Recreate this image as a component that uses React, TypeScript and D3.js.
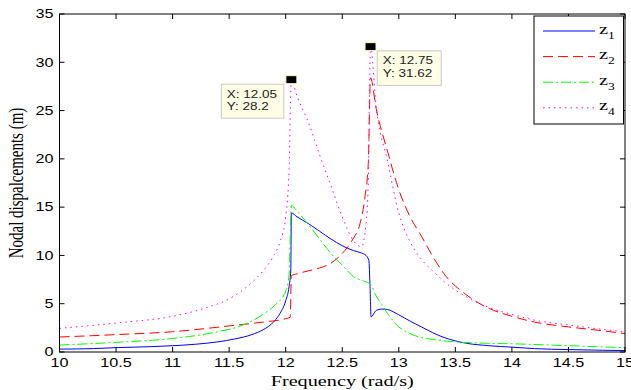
import { useEffect, useRef } from "react";
import * as d3 from "d3";

// axis ticks
const xTicks = [10, 10.5, 11, 11.5, 12, 12.5, 13, 13.5, 14, 14.5, 15];
const yTicks = [0, 5, 10, 15, 20, 25, 30, 35];

// z1 - blue solid
const z1Freq = [10, 10.3, 10.5, 10.8, 11, 11.2, 11.4, 11.55, 11.7, 11.8, 11.9, 11.95, 12.0, 12.03, 12.045, 12.05, 12.1, 12.2, 12.3, 12.4, 12.5, 12.6, 12.67, 12.71, 12.735, 12.745, 12.755, 12.8, 12.85, 12.9, 13.0, 13.1, 13.2, 13.3, 13.4, 13.5, 13.6, 13.8, 14.0, 14.2, 14.5, 14.8, 15];
const z1Disp = [0.3, 0.35, 0.45, 0.55, 0.65, 0.8, 1.05, 1.35, 1.8, 2.3, 3.2, 4.0, 5.3, 6.8, 8.5, 14.4, 14.0, 13.3, 12.5, 11.7, 11.0, 10.5, 10.25, 10.0, 9.5, 7.0, 3.65, 4.3, 4.45, 4.4, 3.85, 3.2, 2.6, 2.0, 1.5, 1.15, 0.9, 0.65, 0.5, 0.35, 0.25, 0.18, 0.15];

// z2 - red dashed
const z2Freq = [10, 10.5, 11, 11.5, 11.8, 12.0, 12.04, 12.05, 12.1, 12.2, 12.3, 12.4, 12.5, 12.55, 12.6, 12.65, 12.7, 12.73, 12.75, 12.8, 12.9, 13.0, 13.1, 13.2, 13.3, 13.4, 13.6, 13.8, 14.0, 14.2, 14.5, 14.8, 15];
const z2Disp = [1.55, 1.8, 2.1, 2.7, 3.1, 3.45, 3.6, 7.9, 8.1, 8.4, 8.7, 9.2, 10.2, 10.9, 11.8, 13.0, 16.0, 19.5, 28.4, 25.2, 20.8, 16.8, 14.0, 12.0, 9.9, 8.1, 5.9, 4.5, 3.7, 3.1, 2.6, 2.2, 1.9];

// z3 - green dash-dot
const z3Freq = [10, 10.5, 11, 11.4, 11.6, 11.8, 11.9, 12.0, 12.03, 12.05, 12.1, 12.2, 12.3, 12.4, 12.5, 12.6, 12.7, 12.75, 12.8, 12.85, 12.9, 13.0, 13.1, 13.2, 13.3, 13.5, 13.8, 14.0, 14.5, 15];
const z3Disp = [0.72, 1.0, 1.4, 2.1, 2.7, 3.9, 4.8, 6.3, 8.0, 15.2, 14.6, 13.2, 11.7, 10.2, 9.0, 7.8, 7.3, 7.0, 5.8, 4.9, 4.0, 2.6, 1.9, 1.5, 1.3, 1.05, 0.9, 0.85, 0.65, 0.45];

// z4 - magenta dotted
const z4Freq = [10, 10.5, 11, 11.3, 11.5, 11.7, 11.8, 11.9, 11.95, 12.0, 12.03, 12.05, 12.1, 12.2, 12.3, 12.4, 12.5, 12.6, 12.67, 12.71, 12.73, 12.75, 12.8, 12.9, 13.0, 13.1, 13.2, 13.3, 13.4, 13.6, 13.8, 14.0, 14.2, 14.5, 14.8, 15];
const z4Disp = [2.45, 3.0, 3.7, 4.6, 5.5, 7.2, 8.4, 10.1, 11.4, 14.0, 19.0, 28.2, 26.5, 23.8, 20.4, 17.2, 14.0, 11.5, 10.9, 13.3, 17.5, 31.62, 25.4, 19.8, 14.4, 11.4, 9.6, 8.4, 7.3, 5.7, 4.6, 3.9, 3.3, 2.8, 2.35, 2.1];

// data cursors
const tipFreq = [12.05, 12.75];
const tipDisp = [28.2, 31.62];

const series = [
  { name: "1", freq: z1Freq, disp: z1Disp, color: "#0000ff", dash: null },
  { name: "2", freq: z2Freq, disp: z2Disp, color: "#ff0000", dash: "10,5" },
  { name: "3", freq: z3Freq, disp: z3Disp, color: "#00ff00", dash: "10,3,2,3" },
  { name: "4", freq: z4Freq, disp: z4Disp, color: "#ff00ff", dash: "1.5,4" },
];

const SX = 1.35; // the source picture is stretched horizontally
const SANS = "'Liberation Sans', Arial, sans-serif";
const SERIF = "'Liberation Serif', 'Times New Roman', serif";

export default function App() {
  const ref = useRef(null);

  useEffect(() => {
    if (ref.current) {
      ref.current.innerHTML = "";
    }
    const width = 631, height = 390;
    const left = 59.5, right = 625, top = 14, bottom = 352;

    const svg = d3.select(ref.current)
      .append("svg")
      .attr("width", width)
      .attr("height", height)
      .style("position", "absolute")
      .style("left", 0)
      .style("top", 0)
      .style("background", "#fff");

    const x = d3.scaleLinear().domain([10, 15]).range([left, right]);
    const y = d3.scaleLinear().domain([0, 35]).range([bottom, top]);

    // curves
    const line = d3.line()
      .x(d => x(d[0]))
      .y(d => y(d[1]))
      .curve(d3.curveMonotoneX);

    series.forEach(s => {
      svg.append("path")
        .datum(s.freq.map((f, i) => [f, s.disp[i]]))
        .attr("fill", "none")
        .attr("stroke", s.color)
        .attr("stroke-width", 1)
        .attr("stroke-dasharray", s.dash)
        .attr("d", line);
    });

    // axes box
    svg.append("rect")
      .attr("x", left).attr("y", top)
      .attr("width", right - left).attr("height", bottom - top)
      .attr("fill", "none").attr("stroke", "#000").attr("stroke-width", 1);

    const tickLen = 5;
    xTicks.forEach(t => {
      svg.append("line").attr("x1", x(t)).attr("x2", x(t)).attr("y1", bottom).attr("y2", bottom - tickLen).attr("stroke", "#000");
      svg.append("line").attr("x1", x(t)).attr("x2", x(t)).attr("y1", top).attr("y2", top + tickLen).attr("stroke", "#000");
      svg.append("text")
        .attr("transform", `translate(${x(t)},367) scale(${SX},1)`)
        .attr("text-anchor", "middle")
        .attr("font-family", SANS)
        .attr("font-size", 12)
        .attr("fill", "#000")
        .text(t);
    });
    yTicks.forEach(t => {
      svg.append("line").attr("x1", left).attr("x2", left + tickLen).attr("y1", y(t)).attr("y2", y(t)).attr("stroke", "#000");
      svg.append("line").attr("x1", right).attr("x2", right - tickLen).attr("y1", y(t)).attr("y2", y(t)).attr("stroke", "#000");
      svg.append("text")
        .attr("transform", `translate(53.5,${y(t) + 4.3}) scale(${SX},1)`)
        .attr("text-anchor", "end")
        .attr("font-family", SANS)
        .attr("font-size", 12)
        .attr("fill", "#000")
        .text(t);
    });

    // axis labels
    svg.append("text")
      .attr("transform", `translate(${(left + right) / 2},386) scale(${SX},1)`)
      .attr("text-anchor", "middle")
      .attr("font-family", SERIF)
      .attr("font-size", 15)
      .attr("fill", "#000")
      .text("Frequency (rad/s)");
    svg.append("text")
      .attr("transform", `translate(23,${(top + bottom) / 2}) scale(${SX},1) rotate(-90)`)
      .attr("text-anchor", "middle")
      .attr("font-family", SERIF)
      .attr("font-size", 15)
      .attr("fill", "#000")
      .text("Nodal dispalcements (m)");

    // data cursors
    const boxOffset = [[-70, 4.5, 62.5, 34], [6.7, 4.2, 64, 34.6]];
    tipFreq.forEach((f, i) => {
      const px = x(f), py = y(tipDisp[i]);
      const [ox, oy, bw, bh] = boxOffset[i];
      const g = svg.append("g");
      g.append("rect")
        .attr("x", px + ox).attr("y", py + oy)
        .attr("width", bw).attr("height", bh)
        .attr("fill", "#ffffe6").attr("stroke", "#c8c8c8");
      ["X: " + f, "Y: " + tipDisp[i]].forEach((s, k) => {
        g.append("text")
          .attr("transform", `translate(${px + ox + 5.5},${py + oy + 13.5 + k * 12.8}) scale(${SX},1)`)
          .attr("font-family", SANS)
          .attr("font-size", 10)
          .attr("fill", "#222")
          .text(s);
      });
      g.append("rect")
        .attr("x", px - 5.5).attr("y", py - 4)
        .attr("width", 11).attr("height", 8)
        .attr("fill", "#000").attr("stroke", "#ffffc0").attr("stroke-width", 1);
    });

    // legend
    const lx = 534, ly = 16;
    svg.append("rect")
      .attr("x", lx).attr("y", ly).attr("width", 89.5).attr("height", 108)
      .attr("fill", "#fff").attr("stroke", "#000");
    series.forEach((s, i) => {
      const yy = 31 + i * 25.6;
      svg.append("line")
        .attr("x1", 543).attr("x2", 595).attr("y1", yy).attr("y2", yy)
        .attr("stroke", s.color).attr("stroke-dasharray", s.dash);
      const t = svg.append("text")
        .attr("transform", `translate(599,${yy + 2.5}) scale(${SX},1)`)
        .attr("font-family", SERIF)
        .attr("font-size", 15)
        .attr("fill", "#000");
      t.append("tspan").text("z");
      t.append("tspan").attr("font-size", 10).attr("dy", 5).text(s.name);
    });
  });

  return <div ref={ref}></div>;
}
